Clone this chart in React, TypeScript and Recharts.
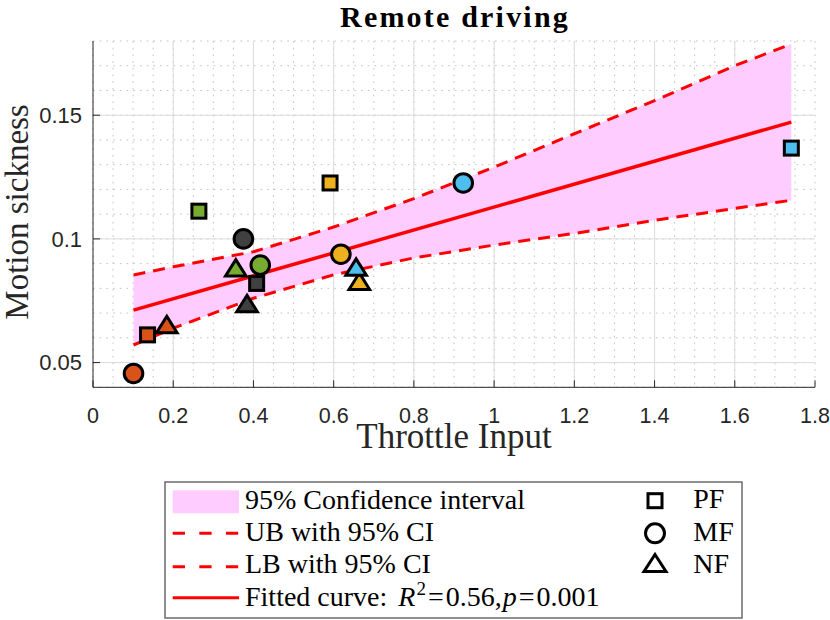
import { ComposedChart, Area, Line, Scatter, XAxis, YAxis, CartesianGrid } from 'recharts'

// axis ticks
const xTicks = [0, 0.2, 0.4, 0.6, 0.8, 1, 1.2, 1.4, 1.6, 1.8]
const yTicks = [0.05, 0.1, 0.15]
const majorGridX = [0.2, 0.4, 0.6, 0.8, 1, 1.2, 1.4, 1.6]
const majorGridY = [0.05, 0.1, 0.15]
const minorGridX = Array.from({ length: 37 }, (_, i) => Math.round(i * 5) / 100)
const minorGridY = Array.from({ length: 15 }, (_, i) => Math.round(40 + i * 10) / 1000)

// confidence band
const bandX = [0.101, 0.2, 0.4, 0.6, 0.8, 1.0, 1.2, 1.4, 1.6, 1.741]
const upperBound = [0.0854, 0.0887, 0.0948, 0.1048, 0.1163, 0.129, 0.1425, 0.1559, 0.17, 0.1788]
const lowerBound = [0.0571, 0.0639, 0.076, 0.0855, 0.0923, 0.0975, 0.1022, 0.1075, 0.1123, 0.1156]

// fitted line end points
const fitX = [0.101, 1.741]
const fitY = [0.0712, 0.1472]

// participants (one colour each), per condition
const subjects = ['S1', 'S2', 'S3', 'S4', 'S5']
const subjectColours: Record<string, string> = {
  S1: '#D95319',
  S2: '#77AC30',
  S3: '#404040',
  S4: '#EDB120',
  S5: '#4DBEEE',
}
const pfX = [0.136, 0.264, 0.408, 0.591, 1.741]
const pfY = [0.0612, 0.1112, 0.082, 0.1226, 0.1367]
const mfX = [0.101, 0.417, 0.375, 0.618, 0.923]
const mfY = [0.0456, 0.0894, 0.1, 0.0938, 0.1226]
const nfX = [0.184, 0.356, 0.384, 0.664, 0.656]
const nfY = [0.0652, 0.0881, 0.0737, 0.0827, 0.0884]

const bandRows = bandX.map((x, i) => ({ x, ub: upperBound[i], lb: lowerBound[i] }))
const fitRows = fitX.map((x, i) => ({ x, y: fitY[i] }))
const toRows = (xs: number[], ys: number[]) => xs.map((x, i) => ({ x, y: ys[i], subject: subjects[i] }))
const pfRows = toRows(pfX, pfY)
const mfRows = toRows(mfX, mfY)
const nfRows = toRows(nfX, nfY)

const RED = '#ff0000'
const PINK = '#ffccff'
const AXIS = '#262626'
const serif = '"Liberation Serif", "Times New Roman", serif'
const sans = '"Liberation Sans", Arial, sans-serif'

const scaleOf = (axis: any) => {
  const s = axis?.scale
  if (typeof s === 'function') return (v: number) => s(v)
  if (s && typeof s.map === 'function') return (v: number) => s.map(v)
  return null
}

const gridX = (values: number[]) => ({ xAxis, offset }: any) => {
  const f = scaleOf(xAxis)
  return values.map(v => (f ? f(v) : offset.left + (v / 1.8) * offset.width))
}
const gridY = (values: number[]) => ({ yAxis, offset }: any) => {
  const f = scaleOf(yAxis)
  return values.map(v => (f ? f(v) : offset.top + ((0.18 - v) / 0.14) * offset.height))
}

const colourOf = (p: any) => subjectColours[p?.payload?.subject] ?? '#888'

const SquareMark = (p: any) => (
  <rect x={p.cx - 7} y={p.cy - 7} width={14} height={14} fill={colourOf(p)} stroke="#000" strokeWidth={3} />
)
const CircleMark = (p: any) => (
  <circle cx={p.cx} cy={p.cy} r={9.3} fill={colourOf(p)} stroke="#000" strokeWidth={3} />
)
const TriangleMark = (p: any) => (
  <path
    d={`M${p.cx},${p.cy - 8.7} L${p.cx + 10.3},${p.cy + 7.7} L${p.cx - 10.3},${p.cy + 7.7} Z`}
    fill={colourOf(p)}
    stroke="#000"
    strokeWidth={3}
  />
)

function Overlay() {
  return (
    <svg width={830} height={620} style={{ position: 'absolute', left: 0, top: 0, pointerEvents: 'none' }}>
      <text x={455} y={26.5} textAnchor="middle" fontFamily={serif} fontWeight="bold" fontSize={30} letterSpacing={2.2} fill="#000">
        Remote driving
      </text>
      <text x={454} y={448} textAnchor="middle" fontFamily={serif} fontSize={35} fill={AXIS}>
        Throttle Input
      </text>
      <text x={28} y={212} transform="rotate(-90 28 212)" textAnchor="middle" fontFamily={serif} fontSize={33} fill={AXIS}>
        Motion sickness
      </text>

      <g transform="translate(165,482)" fontFamily={serif} fontSize={28} fill="#000">
        <rect x={0} y={0} width={577} height={136} fill="#fff" stroke="#6b6b6b" strokeWidth={1.5} />
        <rect x={7.7} y={8.3} width={66.3} height={23} fill={PINK} />
        <text x={80} y={26.5}>95% Confidence interval</text>
        <line x1={7.7} x2={74} y1={51.3} y2={51.3} stroke={RED} strokeWidth={3} strokeDasharray="12.3 14.3" />
        <text x={80} y={59}>UB with 95% CI</text>
        <line x1={7.7} x2={74} y1={84.7} y2={84.7} stroke={RED} strokeWidth={3} strokeDasharray="12.3 14.3" />
        <text x={80} y={90.7}>LB with 95% CI</text>
        <line x1={7.7} x2={74} y1={115.7} y2={115.7} stroke={RED} strokeWidth={3} />
        <text x={80} y={124}>
          Fitted curve:{' '}
          <tspan dx={4} fontStyle="italic">R</tspan>
          <tspan dx={1} dy={-11} fontSize={19}>2</tspan>
          <tspan dx={2} dy={11}>=</tspan>
          <tspan dx={2}>0.56,</tspan>
          <tspan dx={1} fontStyle="italic">p</tspan>
          <tspan dx={2}>=</tspan>
          <tspan dx={2}>0.001</tspan>
        </text>

        <rect x={490 - 7} y={18.7 - 7} width={14} height={14} fill="#fff" stroke="#000" strokeWidth={3} />
        <text x={528.3} y={25.5}>PF</text>
        <circle cx={490} cy={51.3} r={9.5} fill="#fff" stroke="#000" strokeWidth={3} />
        <text x={528.3} y={59}>MF</text>
        <path d="M490,72.5 L501,89.5 L479,89.5 Z" fill="#fff" stroke="#000" strokeWidth={3} />
        <text x={528.3} y={90.7}>NF</text>
      </g>
    </svg>
  )
}

export default function App() {
  return (
    <div style={{ position: 'absolute', left: 0, top: 0, width: 830, height: 620, background: '#fff' }}>
      <ComposedChart
        width={830}
        height={620}
        data={bandRows}
        margin={{ top: 41, right: 15, left: 33, bottom: 162.7 }}
      >
        <CartesianGrid
          stroke="#c4c4c4"
          strokeDasharray="1.7 5"
          verticalCoordinatesGenerator={gridX(minorGridX)}
          horizontalCoordinatesGenerator={gridY(minorGridY)}
        />
        <CartesianGrid
          stroke="#dcdcdc"
          verticalCoordinatesGenerator={gridX(majorGridX)}
          horizontalCoordinatesGenerator={gridY(majorGridY)}
        />
        <XAxis
          type="number"
          dataKey="x"
          domain={[0, 1.8]}
          ticks={xTicks}
          interval={0}
          allowDataOverflow
          height={70}
          tickSize={-7}
          tickMargin={27}
          axisLine={{ stroke: AXIS }}
          tickLine={{ stroke: AXIS }}
          tick={{ fontSize: 21.5, fill: AXIS, fontFamily: sans }}
          tickFormatter={v => String(v)}
        />
        <YAxis
          type="number"
          domain={[0.04, 0.18]}
          ticks={yTicks}
          interval={0}
          allowDataOverflow
          width={60}
          tickSize={-7}
          tickMargin={18}
          axisLine={{ stroke: AXIS }}
          tickLine={{ stroke: AXIS }}
          tick={{ fontSize: 22, fill: AXIS, fontFamily: sans }}
          tickFormatter={v => String(v)}
        />
        <Area
          type="linear"
          dataKey={(r: any) => [r.lb, r.ub]}
          fill={PINK}
          fillOpacity={1}
          stroke="none"
          activeDot={false}
          isAnimationActive={false}
        />
        <Line type="linear" dataKey="ub" stroke={RED} strokeWidth={3} strokeDasharray="12 8" dot={false} activeDot={false} isAnimationActive={false} />
        <Line type="linear" dataKey="lb" stroke={RED} strokeWidth={3} strokeDasharray="12 8" dot={false} activeDot={false} isAnimationActive={false} />
        <Line data={fitRows} type="linear" dataKey="y" stroke={RED} strokeWidth={3.5} dot={false} activeDot={false} isAnimationActive={false} />
        <Scatter data={pfRows} dataKey="y" shape={SquareMark} isAnimationActive={false} />
        <Scatter data={mfRows} dataKey="y" shape={CircleMark} isAnimationActive={false} />
        <Scatter data={nfRows} dataKey="y" shape={TriangleMark} isAnimationActive={false} />
      </ComposedChart>
      <Overlay />
    </div>
  )
}
